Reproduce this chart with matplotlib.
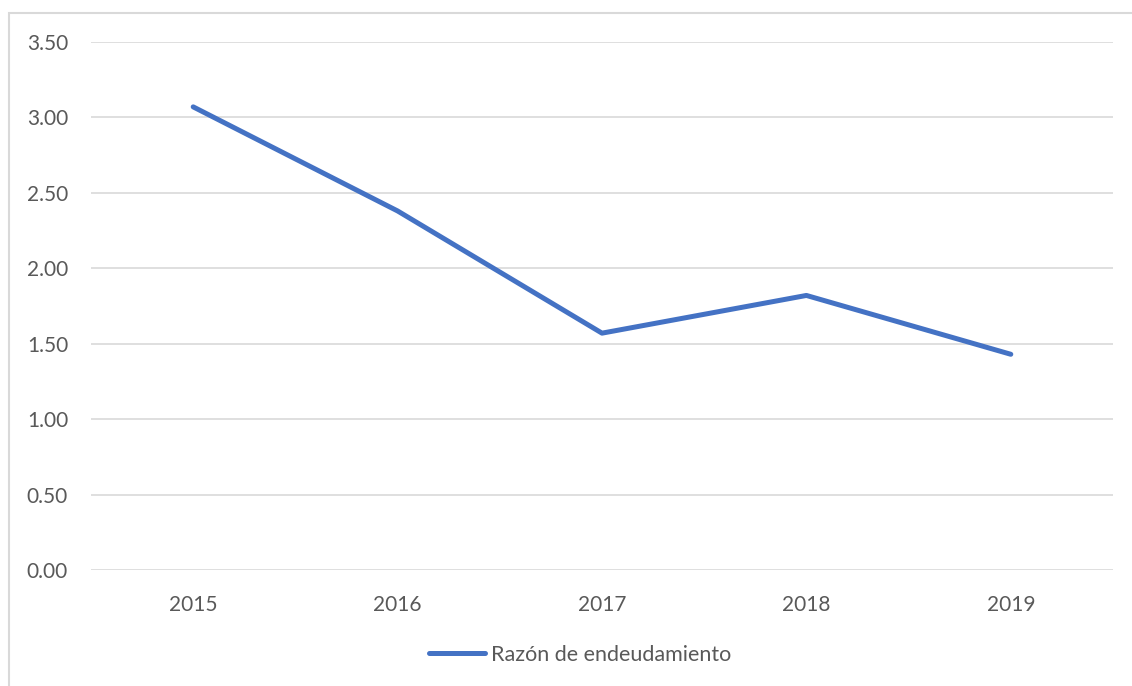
import matplotlib.pyplot as plt
from matplotlib.patches import Rectangle

# datos
years = ["2015", "2016", "2017", "2018", "2019"]
razon = [3.07, 2.38, 1.57, 1.82, 1.43]
yticks = [0.0, 0.5, 1.0, 1.5, 2.0, 2.5, 3.0, 3.5]

plt.rcParams['font.family'] = ['Lato', 'DejaVu Sans']

W, H = 1132, 686
fig = plt.figure(figsize=(W / 100, H / 100), dpi=100)

# marco del grafico
fig.patches.append(Rectangle((9 / W, -0.05), 1.2, 1 - 13 / H + 0.05,
                             transform=fig.transFigure, fill=False,
                             edgecolor="#D9D9D9", linewidth=1.5))

ax = fig.add_axes([91 / W, 1 - 570 / H, (1113 - 91) / W, (570 - 42) / H])
x = range(len(years))
ax.plot(x, razon, color="#4472C4", linewidth=3.6,
        solid_capstyle="round", solid_joinstyle="round",
        label="Razón de endeudamiento")

ax.set_xlim(-0.5, len(years) - 0.5)
ax.set_ylim(0, 3.5)
ax.set_yticks(yticks)
ax.set_yticklabels([f"{v:.2f}" for v in yticks])
ax.set_xticks(list(x))
ax.set_xticklabels(years)
ax.tick_params(length=0, labelsize=15, colors="#595959")
ax.tick_params(axis="y", pad=16.5)
ax.tick_params(axis="x", pad=18)
ax.grid(axis="y", color="#D9D9D9", linewidth=1.2)
ax.set_axisbelow(True)
for s in ax.spines.values():
    s.set_visible(False)

leg = fig.legend(loc="center", bbox_to_anchor=(580 / W, 1 - 655 / H),
                 frameon=False, fontsize=15.5, handlelength=2.6,
                 handletextpad=0.25)
for t in leg.get_texts():
    t.set_color("#595959")

fig.savefig("out.png", dpi=100)
